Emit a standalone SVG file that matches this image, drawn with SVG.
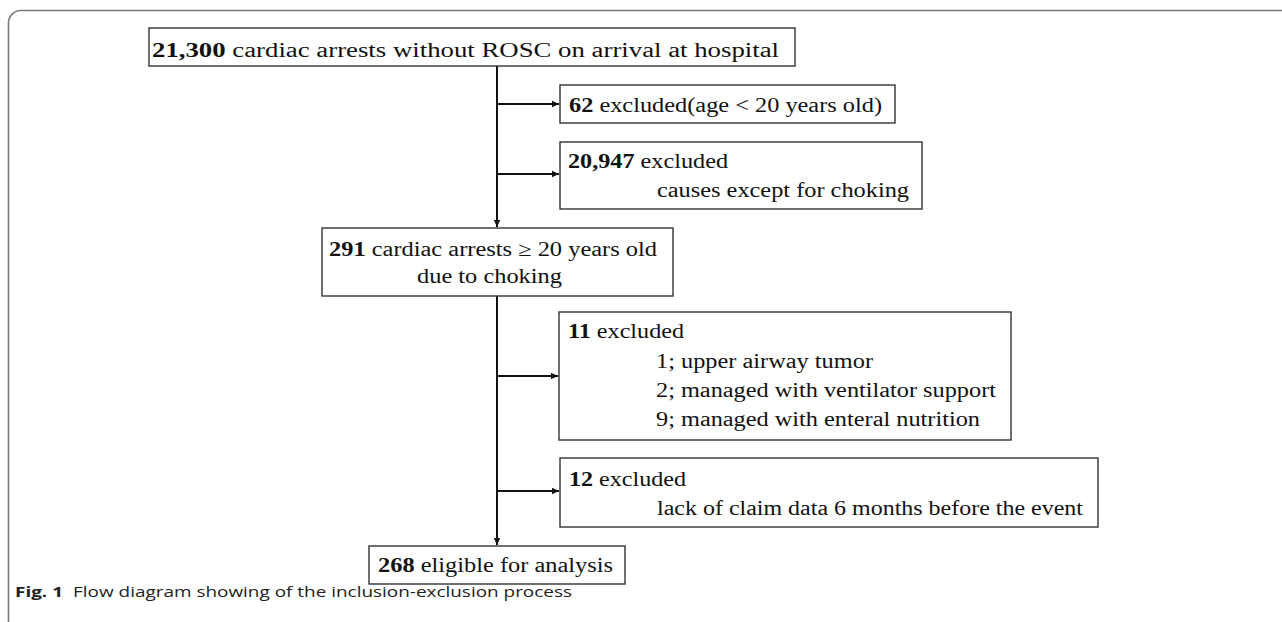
<svg xmlns="http://www.w3.org/2000/svg" width="1282" height="622" viewBox="0 0 1282 622">
<defs>
<style>
.frame{fill:none;stroke:#7a7a7a;stroke-width:1.6}
.box{fill:#fff;stroke:#333;stroke-width:1.4}
.t{font-family:'Liberation Serif','Times New Roman',Times,serif;font-size:20px;fill:#111}
.b{font-weight:bold}
.c{stroke:#111;stroke-width:2;fill:none}
.cap{font-family:'Open Sans','Noto Sans',sans-serif;font-size:15px;fill:#222}
</style>
<marker id="ah" markerUnits="userSpaceOnUse" markerWidth="8" markerHeight="8" refX="7" refY="4" orient="auto">
<path d="M0,0.8 L7,4 L0,7.2 Z" fill="#111"/>
</marker>
</defs>
<rect width="1282" height="622" fill="#fff"/>
<path class="frame" d="M8.5,622 V23 A12.5,12.5 0 0 1 21,10.5 H1282"/>
<g id="connectors">
<line class="c" x1="497" y1="66" x2="497" y2="227" marker-end="url(#ah)"/>
<line class="c" x1="497" y1="104" x2="559" y2="104" marker-end="url(#ah)"/>
<line class="c" x1="497" y1="174" x2="559" y2="174" marker-end="url(#ah)"/>
<line class="c" x1="497" y1="296" x2="497" y2="545" marker-end="url(#ah)"/>
<line class="c" x1="497" y1="376" x2="558" y2="376" marker-end="url(#ah)"/>
<line class="c" x1="497" y1="491" x2="559" y2="491" marker-end="url(#ah)"/>
</g>
<g id="n1">
<rect class="box" x="149" y="28" width="646" height="38"/>
<text class="t" x="152" y="57" textLength="627" lengthAdjust="spacingAndGlyphs"><tspan class="b">21,300</tspan> cardiac arrests without ROSC on arrival at hospital</text>
</g>
<g id="n2">
<rect class="box" x="560" y="85" width="335" height="38"/>
<text class="t" x="569" y="112" textLength="313" lengthAdjust="spacingAndGlyphs"><tspan class="b">62</tspan> excluded(age &lt; 20 years old)</text>
</g>
<g id="n3">
<rect class="box" x="560" y="142" width="362" height="67"/>
<text class="t" x="568" y="168" textLength="160" lengthAdjust="spacingAndGlyphs"><tspan class="b">20,947</tspan> excluded</text>
<text class="t" x="657" y="197" textLength="252" lengthAdjust="spacingAndGlyphs">causes except for choking</text>
</g>
<g id="n4">
<rect class="box" x="322" y="228" width="351" height="68"/>
<text class="t" x="329" y="256" textLength="328" lengthAdjust="spacingAndGlyphs"><tspan class="b">291</tspan> cardiac arrests ≥ 20 years old</text>
<text class="t" x="417" y="283" textLength="145" lengthAdjust="spacingAndGlyphs">due to choking</text>
</g>
<g id="n5">
<rect class="box" x="559" y="312" width="452" height="128"/>
<text class="t" x="568" y="338" textLength="116" lengthAdjust="spacingAndGlyphs"><tspan class="b">11</tspan> excluded</text>
<text class="t" x="656" y="368" textLength="217" lengthAdjust="spacingAndGlyphs">1; upper airway tumor</text>
<text class="t" x="656" y="397" textLength="340" lengthAdjust="spacingAndGlyphs">2; managed with ventilator support</text>
<text class="t" x="656" y="426" textLength="324" lengthAdjust="spacingAndGlyphs">9; managed with enteral nutrition</text>
</g>
<g id="n6">
<rect class="box" x="560" y="458" width="538" height="69"/>
<text class="t" x="569" y="486" textLength="117" lengthAdjust="spacingAndGlyphs"><tspan class="b">12</tspan> excluded</text>
<text class="t" x="657" y="515" textLength="426" lengthAdjust="spacingAndGlyphs">lack of claim data 6 months before the event</text>
</g>
<g id="n7">
<rect class="box" x="369" y="546" width="256" height="38"/>
<text class="t" x="378" y="572" textLength="235" lengthAdjust="spacingAndGlyphs"><tspan class="b">268</tspan> eligible for analysis</text>
</g>
<text class="cap" x="15" y="597" textLength="557" lengthAdjust="spacingAndGlyphs"><tspan font-weight="bold">Fig. 1</tspan><tspan dx="8">Flow diagram showing of the inclusion-exclusion process</tspan></text>
</svg>
